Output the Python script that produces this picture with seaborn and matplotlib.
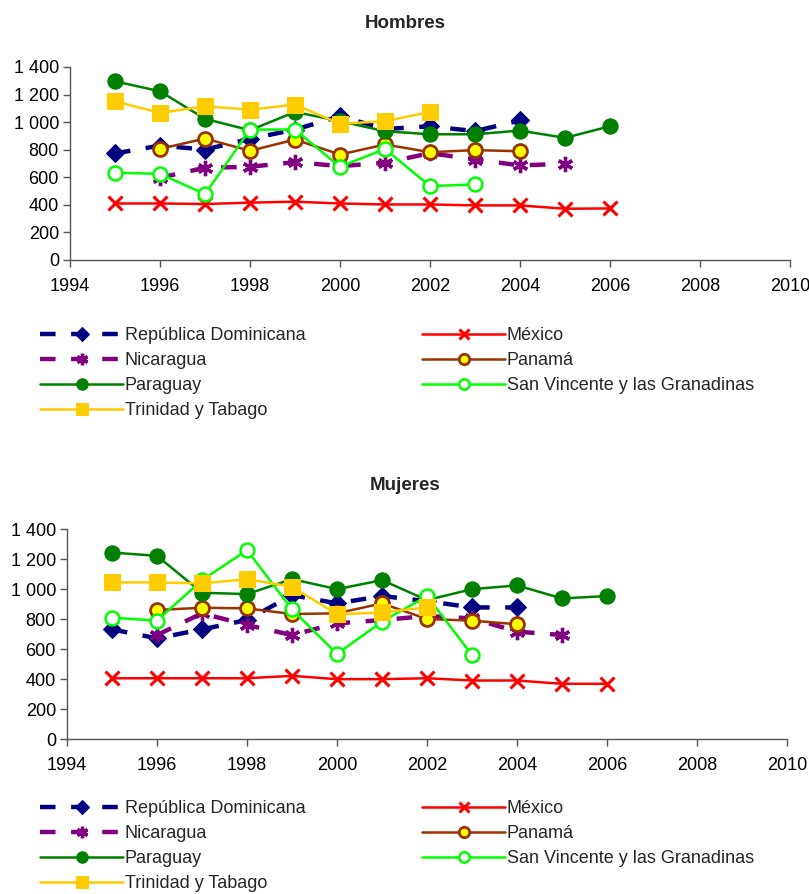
import numpy as np
import pandas as pd
import seaborn as sns
import matplotlib
matplotlib.use("Agg")
import matplotlib.pyplot as plt
from matplotlib.ticker import FuncFormatter, MultipleLocator

# Years covered by the series
years = list(range(1995, 2007))
NA = np.nan

# Hombres
h_rep_dom = [773, 830, 801, 879, 946, 1043, 950, 970, 935, 1012, NA, NA]
h_mexico = [410, 410, 406, 416, 423, 410, 403, 403, 396, 396, 372, 374]
h_nicaragua = [NA, 597, 669, 676, 710, 681, 705, 775, 729, 686, 698, NA]
h_panama = [NA, 806, 881, 792, 874, 765, 838, 782, 797, 789, NA, NA]
h_paraguay = [1296, 1224, 1024, 941, 1074, 1007, 934, 912, 912, 939, 886, 970]
h_san_vincente = [633, 625, 478, 946, 946, 676, 806, 536, 548, NA, NA, NA]
h_trinidad = [1151, 1067, 1115, 1091, 1127, 988, 1007, 1074, NA, NA, NA, NA]

# Mujeres
m_rep_dom = [731, 671, 731, 793, 959, 904, 953, 919, 877, 877, NA, NA]
m_mexico = [405, 405, 405, 405, 421, 399, 399, 405, 390, 390, 368, 368]
m_nicaragua = [NA, 693, 838, 760, 693, 771, 793, 820, 804, 716, 693, NA]
m_panama = [NA, 860, 875, 871, 833, 838, 904, 800, 789, 765, NA, NA]
m_paraguay = [1243, 1221, 975, 966, 1066, 999, 1059, 926, 999, 1024, 937, 953]
m_san_vincente = [809, 789, 1059, 1259, 864, 567, 782, 953, 560, NA, NA, NA]
m_trinidad = [1044, 1044, 1037, 1066, 1015, 831, 844, 878, NA, NA, NA, NA]

names = ["República Dominicana", "México", "Nicaragua", "Panamá",
         "Paraguay", "San Vincente y las Granadinas", "Trinidad y Tabago"]

styles = {
    "República Dominicana": dict(color="#000080", marker="D", markersize=9,
                                 markerfacecolor="#000080", markeredgecolor="#000080",
                                 linewidth=3.2, linestyle=(0, (3.5, 3.5))),
    "México": dict(color="#FF0000", marker="x", markersize=10, markeredgewidth=2.2,
                   markeredgecolor="#FF0000", linewidth=1.8, linestyle="-"),
    "Nicaragua": dict(color="#800080", marker=(6, 2, 0), markersize=11, markeredgewidth=2.4,
                      markeredgecolor="#800080", linewidth=3.2, linestyle=(0, (3.5, 3.5))),
    "Panamá": dict(color="#993300", marker="o", markersize=10, markerfacecolor="#FFFF00",
                   markeredgecolor="#993300", markeredgewidth=2.0, linewidth=1.8, linestyle="-"),
    "Paraguay": dict(color="#008000", marker="o", markersize=11, markerfacecolor="#008000",
                     markeredgecolor="#008000", linewidth=1.8, linestyle="-"),
    "San Vincente y las Granadinas": dict(color="#00FF00", marker="o", markersize=10,
                                          markerfacecolor="white", markeredgecolor="#00FF00",
                                          markeredgewidth=1.8, linewidth=1.8, linestyle="-"),
    "Trinidad y Tabago": dict(color="#FFCC00", marker="s", markersize=11,
                              markerfacecolor="#FFCC00", markeredgecolor="#FFCC00",
                              linewidth=1.8, linestyle="-"),
}

sns.set_style("ticks")
plt.rcParams["font.family"] = ["Liberation Sans", "DejaVu Sans"]
plt.rcParams["font.size"] = 13

W, H = 809, 894
fig = plt.figure(figsize=(W / 100, H / 100), dpi=100)


def thousands(v, _):
    return f"{int(v):,}".replace(",", " ")


def panel(rect, series, title, title_y, leg_y):
    ax = fig.add_axes(rect)
    for name, vals in zip(names, series):
        df = pd.DataFrame({"year": years, "value": vals}).dropna()
        sns.lineplot(data=df, x="year", y="value", ax=ax, label=name,
                     estimator=None, errorbar=None, sort=False, **styles[name])
    if ax.legend_ is not None:
        ax.legend_.remove()
    ax.set_xlim(1994, 2010)
    ax.set_ylim(0, 1400)
    ax.xaxis.set_major_locator(MultipleLocator(2))
    ax.yaxis.set_major_locator(MultipleLocator(200))
    ax.yaxis.set_major_formatter(FuncFormatter(thousands))
    ax.set_xlabel("")
    ax.set_ylabel("")
    for s in ("top", "right"):
        ax.spines[s].set_visible(False)
    for s in ("left", "bottom"):
        ax.spines[s].set_color("#555555")
        ax.spines[s].set_linewidth(1.0)
    ax.tick_params(direction="out", length=5, width=1, color="#555555",
                   labelsize=13, pad=3, labelcolor="black")
    ax.tick_params(axis="x", pad=8)
    fig.text(405 / W, 1 - title_y / H, title, ha="center", va="center",
             fontsize=13.5, fontweight="bold")

    lines = {ln.get_label(): ln for ln in ax.get_lines()}
    cols = [["República Dominicana", "Nicaragua", "Paraguay", "Trinidad y Tabago"],
            ["México", "Panamá", "San Vincente y las Granadinas"]]
    for col, x0 in zip(cols, (40, 422)):
        fig.legend([lines[n] for n in col], col, loc="upper left",
                   bbox_to_anchor=(x0 / W, 1 - leg_y / H), frameon=False,
                   handlelength=4.6, handletextpad=0.1, labelspacing=0.45,
                   borderpad=0, borderaxespad=0, fontsize=13, markerscale=0.75)
    return ax


panel([70 / W, 1 - 260 / H, 720 / W, 193 / H],
      [h_rep_dom, h_mexico, h_nicaragua, h_panama, h_paraguay, h_san_vincente, h_trinidad],
      "Hombres", 24, 327)
panel([67 / W, 1 - 739 / H, 720 / W, 210 / H],
      [m_rep_dom, m_mexico, m_nicaragua, m_panama, m_paraguay, m_san_vincente, m_trinidad],
      "Mujeres", 485, 800)

fig.savefig("out.png", dpi=100)
